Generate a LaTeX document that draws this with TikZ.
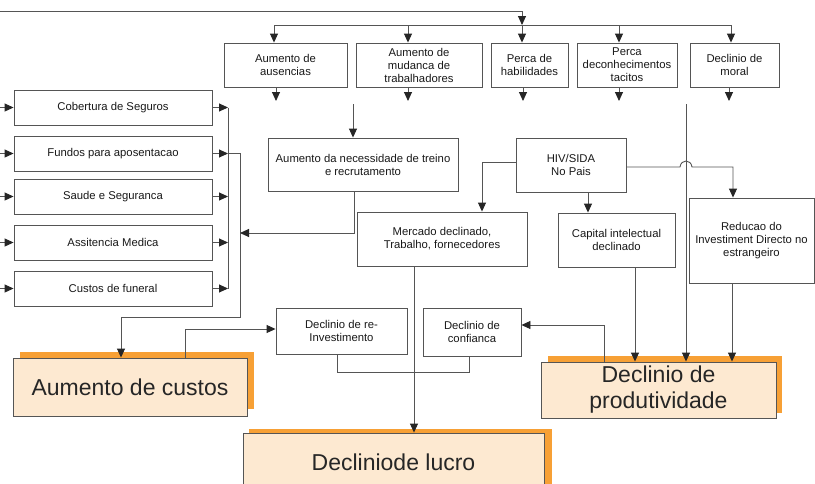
\documentclass[tikz,border=0pt]{standalone}
\usepackage{fontspec}
\setmainfont{Liberation Sans}
\usetikzlibrary{arrows.meta}
\definecolor{peach}{HTML}{FDE9D1}
\definecolor{orng}{HTML}{F7A035}
\definecolor{lc}{HTML}{555555}
\begin{document}
\begin{tikzpicture}[x=1pt,y=-1pt,
  box/.style={draw=lc,line width=0.9pt,fill=white,inner sep=0pt,align=center,
    font=\fontsize{11.3}{13}\selectfont,text=black!90},
  bigbox/.style={draw=lc,line width=0.9pt,fill=peach,inner sep=0pt,align=center,
    font=\fontsize{23}{26}\selectfont,text=black!85},
  wire/.style={draw=lc,line width=0.9pt},
  arr/.style={wire,-{Triangle[length=9pt,width=8pt,color=black!85]}},
  shadow/.style={fill=orng}]
\path[clip] (0,0) rectangle (815,483);
\fill[white] (0,0) rectangle (815,483);

% orange shadows
\fill[shadow] (20,352) rectangle (254,409);
\fill[shadow] (548,356) rectangle (782,413);
\fill[shadow] (249,429) rectangle (552,490);

% top row
\node[box,minimum width=123pt,minimum height=44pt] (b1) at (285.5,65) {Aumento de\\ausencias};
\node[box,minimum width=126pt,minimum height=44pt] (b2) at (419,65) {Aumento de\\mudanca de\\trabalhadores};
\node[box,minimum width=77pt,minimum height=44pt] (b3) at (529.5,65) {Perca de\\habilidades};
\node[box,minimum width=100pt,minimum height=44pt] (b4) at (627,65) {Perca\\deconhecimentos\\tacitos};
\node[box,minimum width=89pt,minimum height=44pt] (b5) at (734.5,65) {Declinio de\\moral};

% left column
\node[box,minimum width=198pt,minimum height=35pt] (c1) at (113,107.5) {Cobertura de Seguros};
\node[box,minimum width=198pt,minimum height=35pt] (c2) at (113,153.5) {Fundos para aposentacao};
\node[box,minimum width=198pt,minimum height=35pt] (c3) at (113,196.5) {Saude e Seguranca};
\node[box,minimum width=198pt,minimum height=35pt] (c4) at (113,242.5) {Assitencia Medica};
\node[box,minimum width=198pt,minimum height=35pt] (c5) at (113,288.5) {Custos de funeral};

% middle
\node[box,minimum width=190pt,minimum height=53pt] (necess) at (363,164.5) {Aumento da necessidade de treino\\e recrutamento};
\node[box,minimum width=110pt,minimum height=54pt] (hiv) at (571,165) {HIV/SIDA\\No Pais};
\node[box,minimum width=170pt,minimum height=54pt] (merc) at (442,239) {Mercado declinado,\\Trabalho, fornecedores};
\node[box,minimum width=117pt,minimum height=54pt] (cap) at (616.5,240) {Capital intelectual\\declinado};
\node[box,minimum width=125pt,minimum height=85pt] (red) at (751.5,240.5) {Reducao do\\Investiment Directo no\\estrangeiro};
\node[box,minimum width=131pt,minimum height=46pt] (reinv) at (341.5,331) {Declinio de re-\\Investimento};
\node[box,minimum width=98pt,minimum height=48pt] (conf) at (472,332) {Declinio de\\confianca};

% outcome boxes
\node[bigbox,minimum width=234pt,minimum height=58pt] (custos) at (130,387) {Aumento de custos};
\node[bigbox,minimum width=235pt,minimum height=56pt] (prod) at (658.5,390) {Declinio de\\produtividade};
\node[bigbox,minimum width=301pt,minimum height=58pt] (lucro) at (393.5,462) {Decliniode lucro};

% coordinates
\coordinate (t0) at (0,11);
\coordinate (u1) at (274,25);
\coordinate (u2) at (408,25);
\coordinate (u3) at (522,25);
\coordinate (u4) at (619,25);
\coordinate (u5) at (731,25);
\coordinate (s1) at (276,101);
\coordinate (s2) at (408,101);
\coordinate (s3) at (523,101);
\coordinate (s4) at (619,101);
\coordinate (s5) at (729,101);
\coordinate (lbus) at (228,0);
\coordinate (rb) at (240,317);
\coordinate (nb) at (240,233);
\coordinate (n0) at (353,104);
\coordinate (v0) at (686,104);

% top line and bus
\draw[arr] (t0) -- (t0 -| u3) -- (u3);
\draw[wire] (u1) -- (u5);
\foreach \i in {1,...,5} {
  \draw[arr] (u\i) -- (u\i |- b\i.north);
  \draw[arr] (b\i.south -| s\i) -- (s\i);
}

% left column connectors
\foreach \i in {1,...,5} {
  \draw[arr] (c\i.west -| t0) -- (c\i.west);
  \draw[arr] (c\i.east) -- (c\i.east -| lbus);
}
\draw[wire] (c1.east -| lbus) -- (c5.east -| lbus);
\draw[arr] (c2.east -| lbus) -| (rb) -| ([xshift=-9pt]custos.north);

% necessidade
\draw[arr] (n0) -- (n0 |- necess.north);
\draw[arr] ([xshift=-9pt]necess.south) |- (nb);

% HIV
\draw[arr] ([yshift=3pt]hiv.west) -| ([xshift=40pt]merc.north);
\draw[arr] ([xshift=17pt]hiv.south) -- ([xshift=17pt]hiv.south |- cap.north);
\draw[arr] ([yshift=-2pt]hiv.east) -- (680,167) .. controls (681,159) and (691,159) .. (692,167) -| ([xshift=-18.5pt]red.north);

% verticals into outcomes
\draw[arr] (v0) -- (v0 |- prod.north);
\draw[arr] ([xshift=-28pt]merc.south) -- ([xshift=-28pt]merc.south |- lucro.north);
\draw[arr] ([xshift=18.5pt]cap.south) -- ([xshift=18.5pt]cap.south |- prod.north);
\draw[arr] ([xshift=-19.5pt]red.south) -- ([xshift=-19.5pt]red.south |- prod.north);

% feedback
\draw[arr] ([xshift=55pt]custos.north) |- ([yshift=2pt]reinv.west);
\draw[arr] ([xshift=-54.5pt]prod.north) |- ([yshift=7pt]conf.east);
\draw[wire] ([xshift=-4.5pt]reinv.south) -- ++(0,18) -| ([xshift=-3pt]conf.south);
\end{tikzpicture}
\end{document}
